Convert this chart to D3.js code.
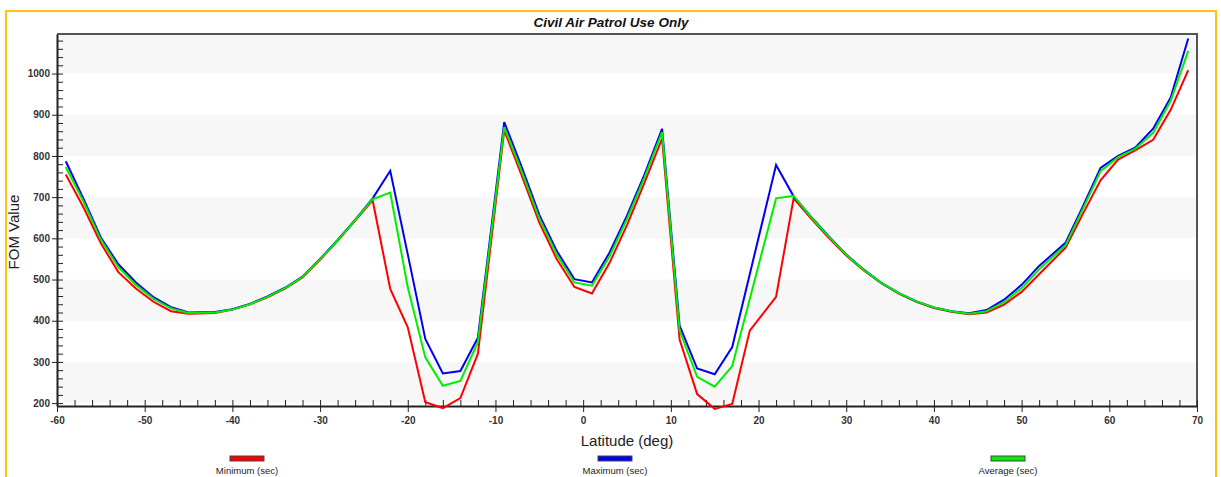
<!DOCTYPE html>
<html>
<head>
<meta charset="utf-8">
<script src="https://cdn.jsdelivr.net/npm/d3@7"></script>
<style>
  body { margin: 0; background: #fff; }
  svg { display: block; font-family: "Liberation Sans", Arial, sans-serif; }
</style>
</head>
<body>
<div id="chart"></div>
<script>
// latitude samples (deg)
const latitudes = [-59, -57, -55, -53, -51, -49, -47, -45, -42, -40, -38, -36, -34, -32, -30, -28, -26, -24,
  -22, -20, -18, -16, -14, -12, -9, -7, -5, -3, -1, 1, 3, 5, 7, 9, 11, 13, 15, 17, 19, 22, 24,
  26, 28, 30, 32, 34, 36, 38, 40, 42, 44, 46, 48, 50, 52, 55, 57, 59, 61, 63, 65, 67, 69];

const minimumSec = [755, 676, 588, 518, 478, 446, 423, 417, 419, 427, 440, 457, 478, 505, 548, 594, 643, 692,
  477, 384, 202, 188, 212, 320, 862, 752, 638, 549, 482, 466, 540, 632, 735, 842, 354, 222, 186, 198, 376, 458, 697,
  648, 601, 558, 522, 491, 466, 446, 431, 422, 416, 420, 439, 470, 513, 577, 660, 741, 791, 814, 839, 912, 1008];

const maximumSec = [787, 697, 602, 537, 493, 457, 433, 420, 421, 428, 441, 459, 480, 507, 550, 596, 645, 697,
  764, 561, 356, 272, 278, 359, 882, 773, 657, 569, 501, 493, 565, 655, 755, 866, 388, 284, 270, 336, 513, 778, 702,
  652, 605, 561, 524, 492, 467, 447, 432, 423, 418, 426, 451, 487, 533, 589, 678, 771, 800, 821, 866, 942, 1085];

const averageSec = [773, 690, 597, 530, 487, 453, 430, 419, 420, 427, 440, 458, 479, 506, 549, 595, 644, 695,
  711, 481, 311, 242, 254, 348, 870, 762, 648, 560, 493, 485, 556, 647, 748, 858, 376, 264, 240, 290, 453, 697, 703,
  651, 604, 560, 523, 492, 467, 447, 432, 423, 417, 423, 445, 479, 525, 583, 672, 763, 797, 818, 856, 934, 1055];

const seriesNames = ["Minimum (sec)", "Maximum (sec)", "Average (sec)"];
const seriesColors = ["#ff0000", "#0000f0", "#00ee00"];
const xTicks = [-60, -50, -40, -30, -20, -10, 0, 10, 20, 30, 40, 50, 60, 70];
const yTicks = [200, 300, 400, 500, 600, 700, 800, 900, 1000];

const W = 1221, H = 477;
const plot = { left: 57, right: 1197, top: 34, bottom: 406 };
const plain = (d) => String(d); // hyphen minus, no thousands comma

const svg = d3.select("#chart").append("svg").attr("width", W).attr("height", H);

// outer frame
svg.append("rect").attr("x", 6).attr("y", 11).attr("width", 1210).attr("height", 480)
  .attr("fill", "none").attr("stroke", "#ffc20e").attr("stroke-width", 2);

svg.append("text").attr("x", 611).attr("y", 27).attr("text-anchor", "middle")
  .style("font-size", "13.5px").style("font-weight", "bold").style("font-style", "italic")
  .attr("fill", "#111").text("Civil Air Patrol Use Only");

const x = d3.scaleLinear().domain([-60, 70]).range([plot.left, plot.right]);
const y = d3.scaleLinear().domain([193, 1096]).range([plot.bottom, plot.top]);

// alternating bands
svg.append("g").selectAll("rect")
  .data([200, 400, 600, 800, 1000])
  .join("rect")
  .attr("x", plot.left)
  .attr("width", plot.right - plot.left)
  .attr("y", (d) => y(Math.min(d + 100, 1096)))
  .attr("height", (d) => y(d) - y(Math.min(d + 100, 1096)))
  .attr("fill", "#f7f7f7");

// plot border top/right
svg.append("path")
  .attr("d", `M${plot.left},${plot.top}H${plot.right}V${plot.bottom}`)
  .attr("fill", "none").attr("stroke", "#555").attr("stroke-width", 2);

// minor ticks
const xMinor = d3.range(-60, 71, 2).filter((d) => d % 10 !== 0);
const yMinor = d3.range(200, 1096, 20).filter((d) => d % 100 !== 0);

svg.append("g").attr("transform", `translate(0,${plot.bottom})`)
  .call(d3.axisTop(x).tickValues(xMinor).tickSize(6).tickFormat(""))
  .call((g) => g.select(".domain").remove())
  .call((g) => g.selectAll("line").attr("stroke", "#222"));

svg.append("g").attr("transform", `translate(${plot.left},0)`)
  .call(d3.axisRight(y).tickValues(yMinor).tickSize(6).tickFormat(""))
  .call((g) => g.select(".domain").remove())
  .call((g) => g.selectAll("line").attr("stroke", "#222"));

// major ticks + labels
const xAxis = svg.append("g").attr("transform", `translate(0,${plot.bottom})`)
  .call(d3.axisBottom(x).tickValues(xTicks).tickFormat(plain).tickSize(6).tickSizeOuter(0).tickPadding(5));
xAxis.selectAll(".tick line").clone().attr("y2", -6);
xAxis.select(".domain").attr("stroke", "#222").attr("stroke-width", 2);
xAxis.selectAll("line").attr("stroke", "#222");
xAxis.selectAll("text").style("font-size", "10px").style("font-weight", "bold").attr("fill", "#333");

const yAxis = svg.append("g").attr("transform", `translate(${plot.left},0)`)
  .call(d3.axisLeft(y).tickValues(yTicks).tickFormat(plain).tickSize(5).tickSizeOuter(0).tickPadding(2));
yAxis.selectAll(".tick line").clone().attr("x2", 6);
yAxis.select(".domain").attr("stroke", "#222").attr("stroke-width", 2);
yAxis.selectAll("line").attr("stroke", "#222");
yAxis.selectAll("text").style("font-size", "10px").style("font-weight", "bold").attr("fill", "#333");

// axis titles
svg.append("text").attr("x", 627).attr("y", 446).attr("text-anchor", "middle")
  .style("font-size", "15px").attr("fill", "#222").text("Latitude (deg)");
svg.append("text").attr("transform", "translate(19,232) rotate(-90)").attr("text-anchor", "middle")
  .style("font-size", "15px").attr("fill", "#222").text("FOM Value");

// series lines
const series = [minimumSec, maximumSec, averageSec];
const line = d3.line().x((d) => x(d[0])).y((d) => y(d[1]));
svg.append("g").selectAll("path")
  .data(series)
  .join("path")
  .attr("d", (vals) => line(latitudes.map((lat, i) => [lat, vals[i]])))
  .attr("fill", "none")
  .attr("stroke", (d, i) => seriesColors[i])
  .attr("stroke-width", 2)
  .attr("stroke-linejoin", "miter");

// legend
const legendX = [247, 615, 1008];
const legend = svg.append("g").selectAll("g")
  .data(seriesNames)
  .join("g")
  .attr("transform", (d, i) => `translate(${legendX[i]},0)`);
legend.append("rect").attr("x", -17).attr("y", 456).attr("width", 34).attr("height", 5)
  .attr("fill", (d, i) => seriesColors[i]).attr("stroke", "#444").attr("stroke-width", 1);
legend.append("text").attr("y", 474).attr("text-anchor", "middle")
  .style("font-size", "9.5px").attr("fill", "#222").text((d) => d);
</script>
</body>
</html>
